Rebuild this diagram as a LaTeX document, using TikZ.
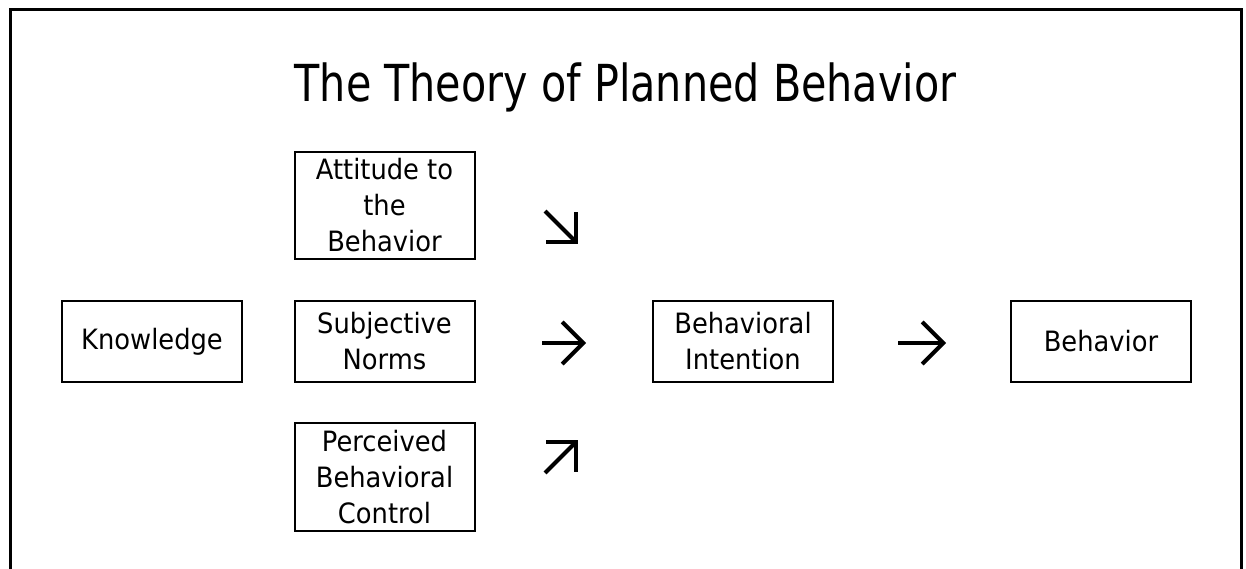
\documentclass[tikz,border=0pt]{standalone}
\usepackage{fontspec}
\setmainfont[FakeStretch=0.92]{DejaVu Sans}
\newfontfamily\titlefont[FakeStretch=0.81]{DejaVu Sans}
\usetikzlibrary{arrows.meta}
\begin{document}
\begin{tikzpicture}[x=1pt,y=-1pt,
  box/.style={draw, line width=2pt, minimum width=180pt, inner sep=0pt, align=center, font=\fontsize{28}{36}\selectfont},
  glyph/.style={line width=4pt, -{Straight Barb[length=21pt,width=42pt]}}]
\useasboundingbox (0,0) rectangle (1246,569);
\clip (0,0) rectangle (1246,569);
\draw[line width=3pt] (10.5,600) -- (10.5,9.5) -- (1241,9.5) -- (1241,600);

\node[anchor=base, font=\titlefont\fontsize{51}{60}\selectfont] (title) at (625.5,102) {The Theory of Planned Behavior};

\node[box, minimum height=107pt] (att) at (384.5,205.5) {Attitude to\\the\\Behavior};
\node[box, minimum height=81pt] (know) at (152,341.5) {Knowledge};
\node[box, minimum height=81pt] (sub) at (384.5,341.5) {Subjective\\Norms};
\node[box, minimum height=108pt] (pbc) at (384.5,477) {Perceived\\Behavioral\\Control};
\node[box, minimum height=81pt] (bi) at (743,341.5) {Behavioral\\Intention};
\node[box, minimum height=81pt] (beh) at (1101,341.5) {Behavior};

\coordinate (a1s) at (545,211);
\coordinate (a1e) at (578,244);
\coordinate (a2s) at (542,343);
\coordinate (a2e) at (586,343);
\coordinate (a3s) at (545,473);
\coordinate (a3e) at (578,440);
\coordinate (a4s) at (898,343);
\coordinate (a4e) at (946,343);
\draw[glyph] (a1s) -- (a1e);
\draw[glyph] (a2s) -- (a2e);
\draw[glyph] (a3s) -- (a3e);
\draw[glyph] (a4s) -- (a4e);
\end{tikzpicture}
\end{document}
